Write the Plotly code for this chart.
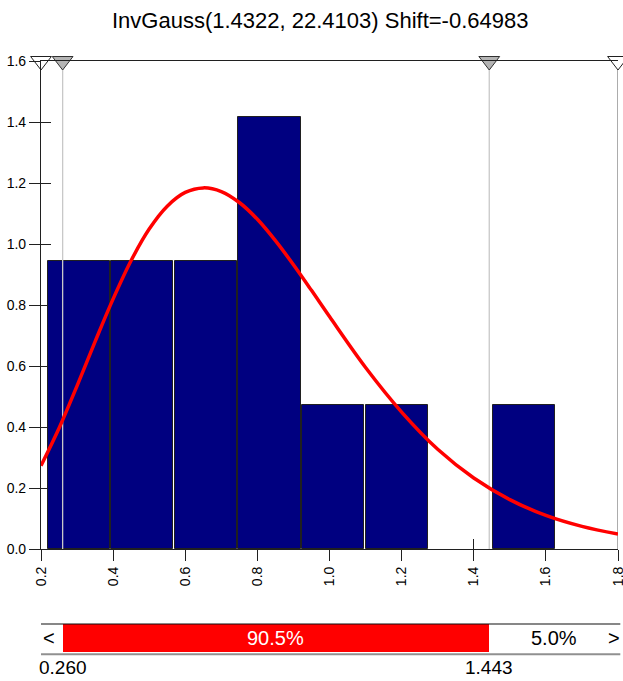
import plotly.graph_objects as go

# ---------------- data ----------------
title_text = "InvGauss(1.4322, 22.4103) Shift=-0.64983"
bin_edges = [0.2164, 0.3928, 0.5692, 0.7456, 0.9220, 1.0984, 1.2748, 1.4512, 1.6276]
bin_counts = [2, 2, 2, 3, 1, 1, 0, 1]
n_samples = 12

curve_x = [0.2, 0.25, 0.3, 0.35, 0.4, 0.45, 0.5, 0.55, 0.6, 0.65, 0.7, 0.75, 0.8, 0.85, 0.9,
           0.95, 1.0, 1.1, 1.2, 1.3, 1.4, 1.5, 1.6, 1.7, 1.8]
curve_y = [0.273, 0.396, 0.535, 0.680, 0.820, 0.946, 1.049, 1.124, 1.169, 1.184, 1.172, 1.136,
           1.081, 1.011, 0.932, 0.848, 0.762, 0.595, 0.449, 0.327, 0.233, 0.162, 0.110, 0.074, 0.049]

x_ticks = [0.2, 0.4, 0.6, 0.8, 1.0, 1.2, 1.4, 1.6, 1.8]
y_ticks = [0.0, 0.2, 0.4, 0.6, 0.8, 1.0, 1.2, 1.4, 1.6]
x_range = [0.2, 1.8]
y_range = [0.0, 1.6]

delim_left = 0.260
delim_right = 1.443
pct_left = 4.5
pct_mid = 90.5
pct_right = 5.0

FONT = "Liberation Sans, Arial, sans-serif"

# ---------------- derived ----------------
widths = [bin_edges[i + 1] - bin_edges[i] for i in range(len(bin_counts))]
centers = [(bin_edges[i] + bin_edges[i + 1]) / 2 for i in range(len(bin_counts))]
density = [c / (n_samples * w) if c > 0 else None for c, w in zip(bin_counts, widths)]

fig = go.Figure()

# histogram bars
fig.add_trace(go.Bar(
    x=centers, y=density, width=[w * 0.978 for w in widths],
    marker=dict(color="#000080", line=dict(color="#202020", width=1)),
    xaxis="x", yaxis="y", hoverinfo="skip", showlegend=False,
))

# delimiter vertical lines (over bars)
for v in [delim_left, delim_right]:
    fig.add_trace(go.Scatter(
        x=[v, v], y=y_range, mode="lines",
        line=dict(color="#c8c8c8", width=1.3),
        xaxis="x", yaxis="y", hoverinfo="skip", showlegend=False,
    ))

# right border line
fig.add_trace(go.Scatter(
    x=[x_range[1], x_range[1]], y=y_range, mode="lines",
    line=dict(color="#808080", width=1.3),
    xaxis="x", yaxis="y", hoverinfo="skip", showlegend=False, cliponaxis=False,
))

# fitted curve
fig.add_trace(go.Scatter(
    x=curve_x, y=curve_y, mode="lines", line=dict(color="#ff0000", width=3.5, shape="spline"),
    xaxis="x", yaxis="y", hoverinfo="skip", showlegend=False, cliponaxis=False,
))

# triangles at top
fig.add_trace(go.Scatter(
    x=[x_range[0], x_range[1]], y=[y_range[1], y_range[1]], mode="markers",
    marker=dict(symbol="triangle-down", size=18, color="white", line=dict(color="#202020", width=1)),
    xaxis="x", yaxis="y", hoverinfo="skip", showlegend=False, cliponaxis=False,
))
fig.add_trace(go.Scatter(
    x=[delim_left, delim_right], y=[y_range[1], y_range[1]], mode="markers",
    marker=dict(symbol="triangle-down", size=18, color="#b4b4b4", line=dict(color="#303030", width=1)),
    xaxis="x", yaxis="y", hoverinfo="skip", showlegend=False, cliponaxis=False,
))

# bottom delimiter bar
fig.add_trace(go.Bar(
    x=[delim_right - delim_left], base=[delim_left], y=[0], orientation="h", width=1,
    marker=dict(color="#ff0000", line=dict(width=0)),
    xaxis="x2", yaxis="y2", hoverinfo="skip", showlegend=False,
))

H = 681
top_px, bot_px = 61, 667
tot = bot_px - top_px
main_bottom = (bot_px - 549) / tot
bar_dom = [(bot_px - 652) / tot, (bot_px - 624) / tot]

fig.update_layout(
    width=623, height=H,
    margin=dict(l=41, r=5, t=top_px, b=H - bot_px, autoexpand=False),
    paper_bgcolor="white", plot_bgcolor="rgba(0,0,0,0)",
    font=dict(family=FONT, color="black", size=14),
    bargap=0,
    title=dict(text=title_text, x=0.514, xref="container", y=1 - 20 / H, yref="container",
               xanchor="center", yanchor="middle", font=dict(family=FONT, size=22, color="black")),
    xaxis=dict(range=x_range, domain=[0, 1], anchor="y", tickvals=x_ticks,
               ticktext=[f"{v:.1f}" for v in x_ticks], tickangle=-90,
               ticks="outside", ticklen=11, tickcolor="#202020", tickwidth=1.2,
               ticklabeloverflow="allow", automargin=False,
               showline=True, linecolor="#202020", linewidth=1.2, mirror=True,
               showgrid=False, zeroline=False, tickfont=dict(size=14)),
    yaxis=dict(range=y_range, domain=[main_bottom, 1], anchor="x", tickvals=y_ticks,
               ticktext=[f"{v:.1f}" for v in y_ticks],
               ticks="outside", ticklen=11, tickcolor="#202020", tickwidth=1.2,
               ticklabeloverflow="allow", automargin=False,
               showline=True, linecolor="#202020", linewidth=1.2,
               showgrid=False, zeroline=False, tickfont=dict(size=14)),
    # inside tick overlays (drawn below traces)
    xaxis3=dict(range=x_range, overlaying="x", anchor="y", tickvals=x_ticks, showticklabels=False,
                ticks="inside", ticklen=10, tickcolor="#202020", tickwidth=1.2,
                showgrid=False, zeroline=False, showline=False, layer="below traces"),
    yaxis3=dict(range=y_range, overlaying="y", anchor="x", tickvals=y_ticks, showticklabels=False,
                ticks="inside", ticklen=10, tickcolor="#202020", tickwidth=1.2,
                showgrid=False, zeroline=False, showline=False, layer="below traces"),
    xaxis2=dict(range=x_range, domain=[0, 1], anchor="y2", visible=False),
    yaxis2=dict(range=[-0.5, 0.5], domain=bar_dom, anchor="x2", visible=False),
)

# dummy trace to activate overlay axes
fig.add_trace(go.Scatter(x=[None], y=[None], xaxis="x3", yaxis="y3", showlegend=False))

# lines around bottom bar
fig.add_shape(type="line", xref="paper", yref="y2 domain", x0=0, x1=1.004, y0=1.0, y1=1.0,
              line=dict(color="#101010", width=1.2))
fig.add_shape(type="line", xref="paper", yref="y2 domain", x0=0, x1=1.004, y0=-0.08, y1=-0.08,
              line=dict(color="#909090", width=2))

# texts on bottom bar
fig.add_annotation(x=(delim_left + delim_right) / 2, y=0.5, xref="x2", yref="y2 domain",
                   text=f"{pct_mid:.1f}%", showarrow=False, font=dict(color="white", size=20))
fig.add_annotation(x=(delim_right + x_range[1]) / 2, y=0.5, xref="x2", yref="y2 domain",
                   text=f"{pct_right:.1f}%", showarrow=False, font=dict(color="black", size=20))
fig.add_annotation(x=0.0, y=0.5, xref="paper", yref="y2 domain", xanchor="left",
                   text="&lt;", showarrow=False, font=dict(color="black", size=20))
fig.add_annotation(x=1.0, y=0.5, xref="paper", yref="y2 domain", xanchor="right", xshift=4,
                   text="&gt;", showarrow=False, font=dict(color="black", size=20))
for v in [delim_left, delim_right]:
    fig.add_annotation(x=v, y=-0.12, xref="x2", yref="y2 domain", yanchor="top",
                       text=f"{v:.3f}", showarrow=False, font=dict(color="black", size=19))

fig.write_html("out.html")
